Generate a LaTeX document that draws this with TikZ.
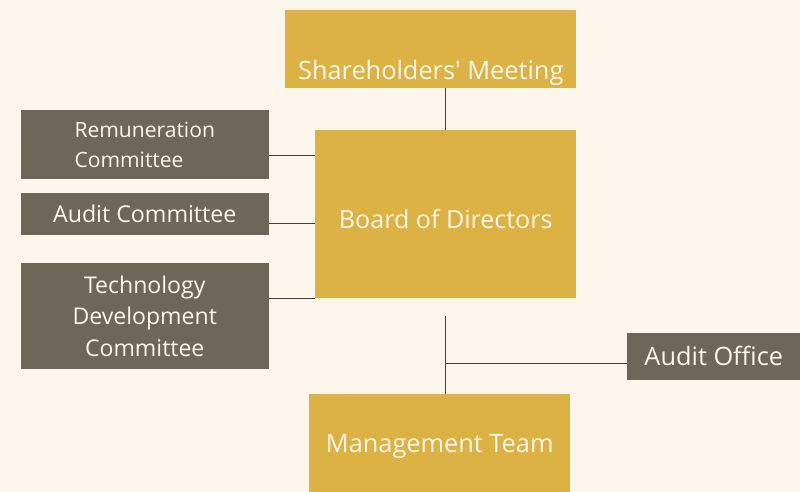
\documentclass[tikz,border=0pt]{standalone}
\usepackage{fontspec}
\setmainfont{Open Sans}
\usetikzlibrary{positioning, backgrounds}
\definecolor{colorPaper}{RGB}{253,246,236}
\definecolor{colorGold}{RGB}{220,178,68}
\definecolor{colorSlate}{RGB}{110,102,89}
\definecolor{colorLine}{RGB}{64,64,64}

\begin{document}
\begin{tikzpicture}[
    goldbox/.style={rectangle, fill=colorGold, text=colorPaper, inner sep=0pt,
                    font=\fontsize{18.8}{22}\selectfont},
    greybox/.style={rectangle, fill=colorSlate, text=colorPaper, minimum width=186pt,
                    inner sep=0pt, align=center, font=\fontsize{17.4}{23.6}\selectfont},
    link/.style={line width=0.9pt, color=colorLine}
]
\useasboundingbox (0,0) rectangle (600pt,-369pt);

% Central board
\node[goldbox, anchor=north west, minimum width=195.75pt, text height=73.5pt, text depth=52.5pt] (Board) at (236.25pt,-97.5pt) {Board of Directors};

% Shareholders above the board
\node[goldbox, above=31.5pt of Board.north east, anchor=south east, minimum width=218.25pt,
      text height=52.5pt, text depth=6pt, font=\fontsize{19}{22}\selectfont] (Meeting) {Shareholders\textquotesingle\ Meeting};

% Committees on the left
\node[greybox, left=34.5pt of Board, yshift=52.125pt, minimum height=51.75pt, align=left,
      font=\fontsize{15.8}{22.5}\selectfont] (Remun) {Remuneration\\Committee};
\node[greybox, left=34.5pt of Board, minimum height=31.5pt] (AuditCom) {Audit Committee};
\node[greybox, left=34.5pt of Board, yshift=-76.5pt, minimum height=79.5pt,
      font=\fontsize{17.3}{23.6}\selectfont] (TechCom) {Technology\\Development\\Committee};

% Management and audit office below
\node[goldbox, below=71.25pt of Board, xshift=-4.5pt, minimum width=195.75pt,
      text height=44.25pt, text depth=30pt, font=\fontsize{19}{22}\selectfont] (Mgmt) {Management Team};
\node[greybox, below right=25.5pt and 37.5pt of Board.south east, minimum width=130.5pt,
      minimum height=35.25pt, font=\fontsize{19}{22}\selectfont] (Office) {Audit Office};

\coordinate (Split) at ([yshift=-12.75pt]Board.south);

% Lines
\draw[link] (Meeting.south -| Board.north) -- (Board.north);
\draw[link] ([yshift=-7.875pt]Remun.east) -- ([yshift=-7.875pt]Remun.east -| Board.west);
\draw[link] ([yshift=-6.75pt]AuditCom.east) -- ([yshift=-6.75pt]AuditCom.east -| Board.west);
\draw[link] (TechCom.east |- Board.south west) -- (Board.south west);
\draw[link] (Split) -- (Split |- Mgmt.north);
\draw[link] ([yshift=-5.25pt]Office.west) -- ([yshift=-5.25pt]Office.west -| Split);

% Paper
\begin{scope}[on background layer]
    \fill[colorPaper] (0,0) rectangle (600pt,-369pt);
\end{scope}

\end{tikzpicture}
\end{document}
